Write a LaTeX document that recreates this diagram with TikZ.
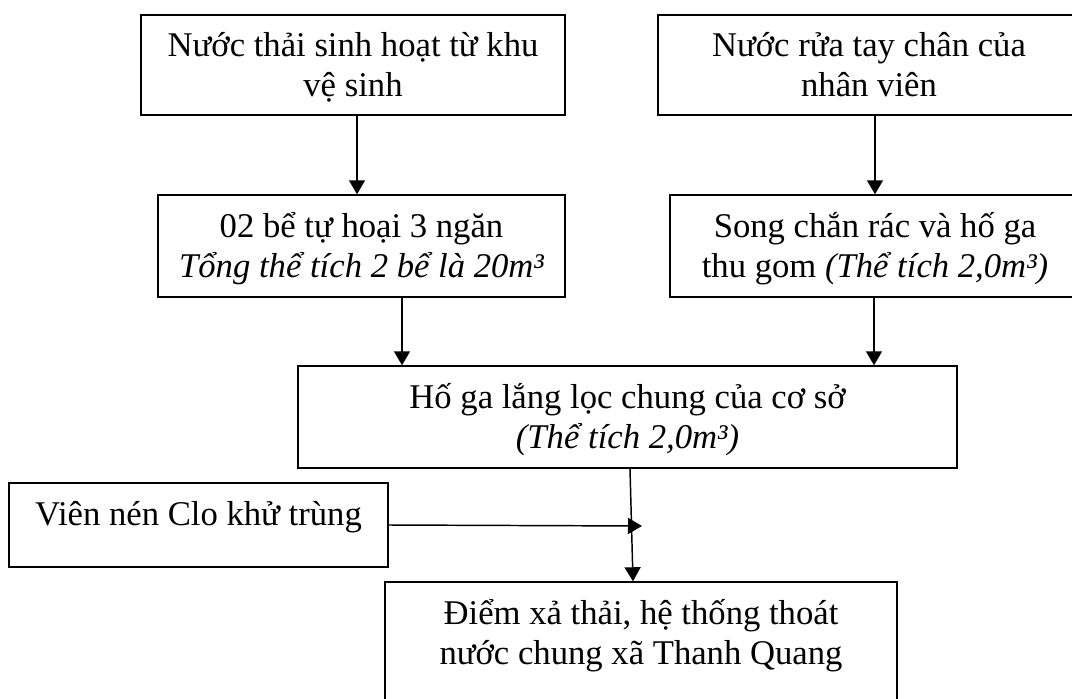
\documentclass[tikz,border=0pt]{standalone}
\usepackage{fontspec}
\setmainfont{Liberation Serif}
\usetikzlibrary{arrows.meta}
\begin{document}
\begin{tikzpicture}[x=0.75pt,y=-0.75pt,
  box/.style={draw, line width=1.1pt, inner sep=0pt},
  txt/.style={font=\fontsize{26}{30}\selectfont, anchor=base, inner sep=0pt},
  arr/.style={line width=1.1pt, -{Triangle[length=10.5pt,width=12pt]}}]
\clip (0,0) rectangle (1072,699);
\useasboundingbox (0,0) rectangle (1072,699);
% boxes
\node[box, minimum width=318pt, minimum height=75pt] (b1) at (353,65) {};
\node[box, minimum width=316.5pt, minimum height=75pt] (b3) at (869,65) {};
\node[box, minimum width=305.25pt, minimum height=76.5pt] (b2) at (361.5,246) {};
\node[box, minimum width=307.5pt, minimum height=76.5pt] (b4) at (875,246) {};
\node[box, minimum width=494.25pt, minimum height=76.5pt] (b5) at (627.5,417) {};
\node[box, minimum width=284.25pt, minimum height=63pt] (clo) at (198.5,525) {};
\node[box, minimum width=384pt, minimum height=103.5pt] (b6) at (641,651) {};
% texts
\node[txt] (t1a) at (353,57) {Nước thải sinh hoạt từ khu};
\node[txt] (t1b) at (353,97) {vệ sinh};
\node[txt] (t3a) at (869,57) {Nước rửa tay chân của};
\node[txt] (t3b) at (869,97) {nhân viên};
\node[txt] (t2a) at (361.5,237) {02 bể tự hoại 3 ngăn};
\node[txt] (t2b) at (361.5,277) {\itshape Tổng thể tích 2 bể là 20m³};
\node[txt] (t4a) at (875,237) {Song chắn rác và hố ga};
\node[txt] (t4b) at (875,277) {thu gom \textit{(Thể tích 2,0m³)}};
\node[txt] (t5a) at (627.5,408) {Hố ga lắng lọc chung của cơ sở};
\node[txt] (t5b) at (627.5,448) {\itshape (Thể tích 2,0m³)};
\node[txt] (tc) at (198.5,525) {Viên nén Clo khử trùng};
\node[txt] (t6a) at (641,624) {Điểm xả thải, hệ thống thoát};
\node[txt] (t6b) at (641,664) {nước chung xã Thanh Quang};
% connector guides
\coordinate (x1) at (357,0);
\coordinate (x2) at (875,0);
\coordinate (x3) at (402,0);
\coordinate (x4) at (874,0);
\coordinate (x5) at (630,0);
\coordinate (x6) at (633,0);
\coordinate (ct) at (642,526);
% connectors
\draw[arr] (b1.south -| x1) -- (b2.north -| x1);
\draw[arr] (b3.south -| x2) -- (b4.north -| x2);
\draw[arr] (b2.south -| x3) -- (b5.north -| x3);
\draw[arr] (b4.south -| x4) -- (b5.north -| x4);
\draw[arr] (b5.south -| x5) -- (b6.north -| x6);
\draw[arr] (clo.east) -- (ct);
\end{tikzpicture}
\end{document}
